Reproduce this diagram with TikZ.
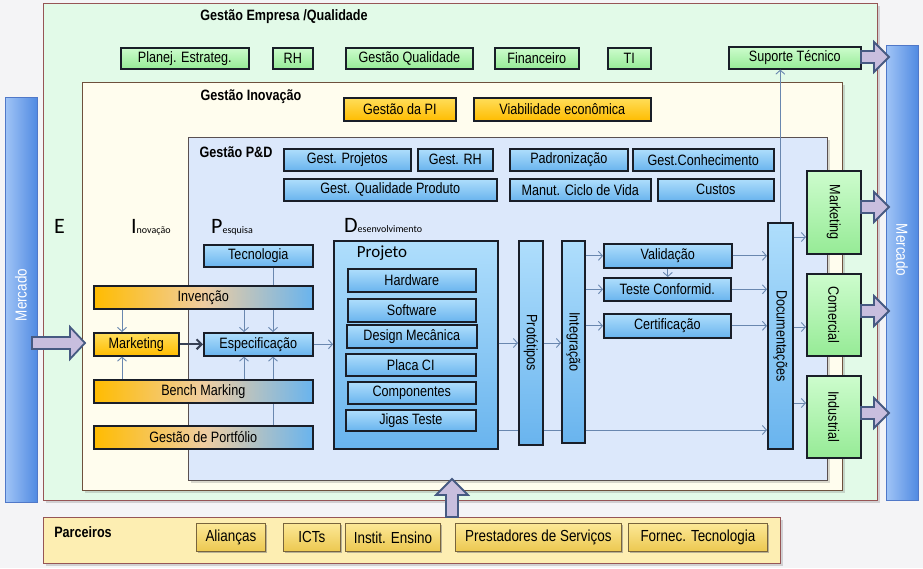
\documentclass[tikz,border=0pt]{standalone}
\usepackage{fontspec}
\setmainfont{Liberation Sans}[FakeStretch=0.84]
\newfontfamily\calfont{Carlito}
\usetikzlibrary{arrows.meta,shadows,calc}
\definecolor{bgc}{RGB}{244,244,246}
\definecolor{mint}{RGB}{226,250,232}
\definecolor{cream}{RGB}{255,253,238}
\definecolor{pdblue}{RGB}{220,232,251}
\definecolor{pyell}{RGB}{253,238,178}
\definecolor{redb}{RGB}{150,85,85}
\definecolor{brownb}{RGB}{110,80,60}
\definecolor{grayb}{RGB}{90,80,80}
\definecolor{bd}{RGB}{25,30,40}
\definecolor{g1}{RGB}{205,252,205}
\definecolor{g2}{RGB}{150,235,150}
\definecolor{b1}{RGB}{175,222,252}
\definecolor{b2}{RGB}{105,180,238}
\definecolor{o1}{RGB}{255,222,90}
\definecolor{o2}{RGB}{255,188,0}
\definecolor{y1}{RGB}{252,232,150}
\definecolor{y2}{RGB}{236,200,80}
\definecolor{ybd}{RGB}{120,100,60}
\definecolor{lc}{RGB}{105,135,175}
\definecolor{tc}{RGB}{55,65,85}
\definecolor{fb}{RGB}{70,90,130}
\definecolor{ff}{RGB}{200,190,222}
\definecolor{mb1}{RGB}{160,196,246}
\definecolor{mb2}{RGB}{80,138,226}
\definecolor{mbd}{RGB}{80,120,200}
\definecolor{mid}{RGB}{240,205,160}
\newcommand{\bx}[7]{\node[#1,anchor=north west,minimum width={#5pt-#3pt},minimum height={#6pt-#4pt}] (#2) at (#3,#4) {#7};}
\begin{document}
\begin{tikzpicture}[x=1pt,y=-1pt,
  conn/.style={draw=lc, line width=0.9pt, -{Straight Barb[length=4pt,width=9pt,line width=0.9pt]}},
  plainln/.style={draw=lc, line width=0.9pt},
  thickconn/.style={draw=tc, line width=2pt, -{Straight Barb[length=5pt,width=10pt,line width=2pt]}},
  box/.style={draw=bd, line width=1.6pt, inner sep=0pt, font=\fontsize{15}{16}\selectfont,
    drop shadow={shadow xshift=1.5pt, shadow yshift=-1.5pt, opacity=.55}},
  gbox/.style={box, top color=g1, bottom color=g2},
  bbox/.style={box, top color=b1, bottom color=b2},
  obox/.style={box, top color=o1, bottom color=o2},
  mbox/.style={box, left color=o2, right color=b2, middle color=mid},
  ybox/.style={box, top color=y1, bottom color=y2, line width=0.8pt, draw=ybd, font=\fontsize{16}{17}\selectfont},
  cont/.style={inner sep=0pt, line width=1pt, drop shadow={shadow xshift=2pt, shadow yshift=-2pt, opacity=.3}},
  mbar/.style={inner sep=0pt, left color=mb1, right color=mb2, draw=mbd, line width=.5pt},
  mtxt/.style={text=white, font=\fontsize{16}{17}\selectfont},
  vtxt/.style={rotate=-90, font=\fontsize{15}{16}\selectfont},
  fat/.style={draw=fb, line width=1.8pt, fill=ff, line join=miter},
  ttl/.style={font=\bfseries\fontsize{15}{16}\selectfont},
  big/.style={font=\calfont\fontsize{22}{22}\selectfont, inner sep=0pt, anchor=base west}
]
\useasboundingbox (0,0) rectangle (923,568);
\fill[bgc] (0,0) rectangle (923,568);

% containers
\bx{cont, fill=mint, draw=redb}{emp}{43}{3}{877}{500}{}
\bx{cont, fill=cream, draw=brownb}{ino}{82}{82}{842}{490}{}
\bx{cont, fill=pdblue, draw=grayb}{pd}{188}{137}{827}{480}{}
\bx{cont, fill=pyell, draw=redb}{par}{43}{517}{780}{563}{}
\bx{mbar}{mercL}{5}{97}{37}{502}{}
\bx{mbar}{mercR}{886}{45}{918}{500}{}
\node[mtxt, rotate=90] (mLt) at (21,295) {Mercado};
\node[mtxt, rotate=-90] (mRt) at (902,250) {Mercado};

% titles
\node[ttl] (tEmp) at (284,17) {Gestão Empresa /Qualidade};
\node[ttl] (tIno) at (251,97) {Gestão Inovação};
\node[ttl] (tPD) at (236,152) {Gestão P\&D};
\node[ttl] (tPar) at (83,532) {Parceiros};

% big letter labels
\node[big] (lE) at (54,233) {E};
\node[big] (lI) at (131,233) {I{\fontsize{10}{10}\selectfont nova\c{c}ão}};
\node[big] (lP) at (211,233) {P{\fontsize{10}{10}\selectfont esquisa}};
\node[big] (lD) at (344,232) {D{\fontsize{10}{10}\selectfont esenvolvimento}};

% top row
\bx{gbox}{pe}{120}{47}{248}{68}{Planej. Estrateg.}
\bx{gbox}{rh}{272}{47}{312}{68}{RH}
\bx{gbox}{gq}{345}{47}{472}{68}{Gestão Qualidade}
\bx{gbox}{fin}{494}{47}{578}{68}{Financeiro}
\bx{gbox}{ti}{607}{47}{650}{68}{TI}
\bx{gbox}{sup}{728}{46}{860}{68}{Suporte Técnico}

\bx{obox}{pi}{343}{97}{455}{120}{Gestão da PI}
\bx{obox}{vi}{473}{97}{650}{120}{Viabilidade econômica}

% P&D management rows
\bx{bbox}{gpj}{283}{148}{410}{170}{Gest. Projetos}
\bx{bbox}{grh}{417}{148}{492}{170}{Gest. RH}
\bx{bbox}{pad}{509}{148}{627}{170}{Padronização}
\bx{bbox}{gco}{632}{148}{773}{170}{Gest.Conhecimento}
\bx{bbox}{gqp}{283}{178}{496}{200}{Gest. Qualidade Produto}
\bx{bbox}{mcv}{509}{178}{650}{200}{Manut. Ciclo de Vida}
\bx{bbox}{cus}{657}{178}{773}{200}{Custos}

% left column
\bx{bbox}{tec}{203}{244}{312}{266}{Tecnologia}
\bx{mbox}{inv}{93}{285}{312}{308}{Invenção}
\bx{obox}{mkt}{93}{332}{178}{355}{Marketing}
\bx{bbox}{esp}{203}{332}{312}{355}{Especificação}
\bx{mbox}{bench}{93}{379}{312}{402}{Bench Marking}
\bx{mbox}{port}{93}{425}{312}{448}{Gestão de Portfólio}

% projeto
\bx{bbox}{proj}{333}{240}{497}{448}{}
\node[font=\calfont\fontsize{17}{17}\selectfont] (projt) at (382,253) {Projeto};
\bx{bbox}{hw}{347}{268}{475}{291}{Hardware}
\bx{bbox}{sw}{347}{298}{475}{321}{Software}
\bx{bbox}{dm}{346}{324}{476}{347}{Design Mecânica}
\bx{bbox}{pci}{345}{353}{475}{375}{Placa CI}
\bx{bbox}{comp}{347}{381}{475}{403}{Componentes}
\bx{bbox}{jig}{345}{409}{475}{430}{Jigas Teste}

\bx{bbox}{prot}{518}{240}{542}{444}{}
\node[vtxt] (prott) at (prot.center) {Protótipos};
\bx{bbox}{integ}{561}{240}{584}{442}{}
\node[vtxt] (integt) at (integ.center) {Integração};

\bx{bbox}{val}{603}{243}{731}{267}{Validação}
\bx{bbox}{tes}{603}{277}{730}{300}{Teste Conformid.}
\bx{bbox}{cert}{603}{313}{730}{337}{Certificação}

\bx{bbox}{doc}{767}{222}{792}{448}{}
\node[vtxt] (doct) at (doc.center) {Documentações};

\bx{gbox}{mk2}{806}{170}{860}{253}{}
\node[vtxt] (mk2t) at (mk2.center) {Marketing};
\bx{gbox}{com}{806}{273}{860}{355}{}
\node[vtxt] (comt) at (com.center) {Comercial};
\bx{gbox}{ind}{806}{375}{860}{457}{}
\node[vtxt] (indt) at (ind.center) {Industrial};

% partners
\bx{ybox}{ali}{196}{523}{265}{551}{Alianças}
\bx{ybox}{ict}{283}{523}{340}{551}{ICTs}
\bx{ybox}{ins}{345}{523}{440}{551}{Instit. Ensino}
\bx{ybox}{pre}{455}{523}{621}{551}{Prestadores de Serviços}
\bx{ybox}{forn}{628}{523}{767}{551}{Fornec. Tecnologia}

% helper coordinates
\coordinate (xa) at (122,0);
\coordinate (xb) at (244,0);
\coordinate (xc) at (273,0);
\coordinate (ym) at (0,343);
\coordinate (yb) at (0,430);
\coordinate (y1) at (0,237);
\coordinate (y2) at (0,327);
\coordinate (y3) at (0,403);

% connectors left
\draw[conn] (inv.south -| xa) -- (mkt.north -| xa);
\draw[conn] (bench.north -| xa) -- (mkt.south -| xa);
\draw[plainln] (tec.south -| xc) -- (inv.north -| xc);
\draw[conn] (inv.south -| xc) -- (esp.north -| xc);
\draw[conn] (inv.south -| xb) -- (esp.north -| xb);
\draw[plainln] (port.north -| xc) -- (bench.south -| xc);
\draw[conn] (bench.north -| xc) -- (esp.south -| xc);
\draw[conn] (bench.north -| xb) -- (esp.south -| xb);
\draw[thickconn] (mkt.east) -- (esp.west);
\draw[conn] (esp.east) -- (esp.east -| proj.west);

% development chain
\draw[conn] (proj.east |- ym) -- (prot.west |- ym);
\draw[conn] (prot.east |- ym) -- (integ.west |- ym);
\draw[conn] (val.west -| integ.east) -- (val.west);
\draw[conn] (tes.west -| integ.east) -- (tes.west);
\draw[conn] (cert.west -| integ.east) -- (cert.west);
\draw[conn] (val.south) -- (val.south |- tes.north);
\draw[conn] (val.east) -- (val.east -| doc.west);
\draw[conn] (tes.east) -- (tes.east -| doc.west);
\draw[conn] (cert.east) -- (cert.east -| doc.west);
\draw[plainln] (proj.east |- yb) -- (prot.west |- yb);
\draw[plainln] (prot.east |- yb) -- (integ.west |- yb);
\draw[conn] (integ.east |- yb) -- (doc.west |- yb);
\draw[conn] (doc.north) -- (doc.north |- sup.south);
\draw[conn] (doc.east |- y1) -- (mk2.west |- y1);
\draw[conn] (doc.east |- y2) -- (com.west |- y2);
\draw[conn] (doc.east |- y3) -- (ind.west |- y3);

% fat arrows
\draw[fat] (32,337) -- (70,337) -- (70,327) -- (85,343) -- (70,359) -- (70,349) -- (32,349) -- cycle;
\foreach \yy in {57,207,311,413}{
  \draw[fat] (861,\yy-6) -- (874,\yy-6) -- (874,\yy-15) -- (889,\yy) -- (874,\yy+15) -- (874,\yy+6) -- (861,\yy+6) -- cycle;
}
\draw[fat] (446,517) -- (446,495) -- (436,495) -- (452,479) -- (468,495) -- (458,495) -- (458,517) -- cycle;
\end{tikzpicture}
\end{document}
